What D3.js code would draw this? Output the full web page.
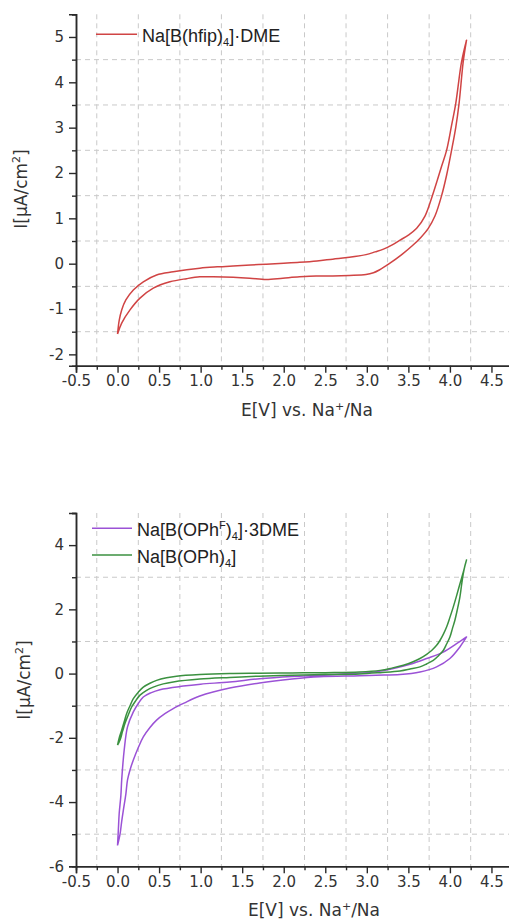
<!DOCTYPE html>
<html><head><meta charset="utf-8">
<script src="https://cdn.jsdelivr.net/npm/d3@7"></script>
<style>body{margin:0;background:#fff} svg{display:block}</style>
</head><body>
<svg id="c" width="509" height="921"></svg>
<script>
// ---------- tick values ----------
const xMajor = [-0.5, 0.0, 0.5, 1.0, 1.5, 2.0, 2.5, 3.0, 3.5, 4.0, 4.5];
const xMinor = [-0.25, 0.25, 0.75, 1.25, 1.75, 2.25, 2.75, 3.25, 3.75, 4.25, 4.75];
const yMajorTop = [-2, -1, 0, 1, 2, 3, 4, 5];
const yMinorTop = [-1.5, -0.5, 0.5, 1.5, 2.5, 3.5, 4.5, 5.5];
const yGridTop = [-1.5, -0.5, 0.5, 1.5, 2.5, 3.5, 4.5];
const yMajorBot = [-6, -4, -2, 0, 2, 4];
const yMinorBot = [-5, -3, -1, 1, 3, 5];
const yGridBot = [-5, -3, -1, 1, 3];

// ---------- series (E [V], I [uA/cm2]) ----------
// Na[B(hfip)4]·DME : upper branch and lower branch, both ascending in E
const hfipUpper = [[0.00,-1.55],[0.02,-1.25],[0.05,-1.02],[0.10,-0.80],[0.19,-0.58],[0.31,-0.40],[0.47,-0.25],[0.67,-0.18],[0.99,-0.10],[1.20,-0.07],[1.39,-0.05],[1.60,-0.03],[1.79,-0.01],[2.00,0.01],[2.19,0.03],[2.40,0.06],[2.59,0.10],[2.79,0.14],[2.99,0.20],[3.10,0.26],[3.20,0.32],[3.30,0.41],[3.40,0.52],[3.50,0.63],[3.60,0.78],[3.70,1.05],[3.78,1.45],[3.85,1.85],[3.90,2.15],[3.96,2.50],[4.02,3.05],[4.07,3.53],[4.14,4.45],[4.20,4.93]];
const hfipLower = [[0.00,-1.55],[0.05,-1.31],[0.15,-1.02],[0.27,-0.76],[0.43,-0.54],[0.63,-0.40],[0.83,-0.33],[0.99,-0.29],[1.15,-0.29],[1.39,-0.30],[1.59,-0.32],[1.79,-0.35],[1.99,-0.32],[2.19,-0.29],[2.39,-0.27],[2.59,-0.27],[2.79,-0.26],[2.99,-0.24],[3.08,-0.20],[3.15,-0.14],[3.27,0.00],[3.42,0.20],[3.55,0.40],[3.65,0.58],[3.74,0.78],[3.82,1.05],[3.90,1.50],[3.96,1.95],[4.02,2.50],[4.07,3.00],[4.11,3.53],[4.16,4.45],[4.20,4.93]];
// Na[B(OPhF)4]·3DME
const ophfUpper = [[0.00,-5.35],[0.01,-4.85],[0.02,-4.35],[0.04,-3.80],[0.05,-3.31],[0.08,-2.38],[0.12,-1.66],[0.19,-1.19],[0.25,-0.93],[0.31,-0.73],[0.40,-0.60],[0.51,-0.50],[0.79,-0.39],[1.00,-0.33],[1.35,-0.26],[1.71,-0.16],[2.10,-0.09],[2.43,-0.05],[2.80,0.00],[3.08,0.05],[3.32,0.16],[3.52,0.29],[3.72,0.47],[3.92,0.67],[4.08,0.93],[4.20,1.14]];
const ophfLower = [[0.00,-5.35],[0.03,-5.00],[0.05,-4.60],[0.07,-4.25],[0.10,-3.75],[0.12,-3.31],[0.15,-3.00],[0.19,-2.69],[0.25,-2.30],[0.31,-1.97],[0.39,-1.68],[0.47,-1.45],[0.57,-1.25],[0.67,-1.09],[0.80,-0.92],[0.99,-0.70],[1.35,-0.45],[1.71,-0.29],[2.10,-0.17],[2.43,-0.10],[2.91,-0.07],[3.11,-0.05],[3.40,-0.03],[3.64,0.05],[3.84,0.21],[4.00,0.47],[4.12,0.83],[4.20,1.14]];
// Na[B(OPh)4]
const ophUpper = [[0.00,-2.23],[0.02,-2.00],[0.05,-1.76],[0.08,-1.50],[0.11,-1.24],[0.15,-1.00],[0.19,-0.78],[0.25,-0.58],[0.31,-0.42],[0.39,-0.30],[0.47,-0.21],[0.59,-0.13],[0.71,-0.08],[0.99,-0.03],[1.35,0.00],[1.70,0.01],[2.10,0.02],[2.50,0.03],[2.91,0.05],[3.16,0.10],[3.30,0.17],[3.44,0.26],[3.55,0.36],[3.64,0.47],[3.72,0.60],[3.78,0.72],[3.84,0.88],[3.88,1.03],[3.92,1.22],[3.96,1.45],[4.00,1.75],[4.04,2.07],[4.08,2.42],[4.12,2.79],[4.16,3.15],[4.20,3.54]];
const ophLower = [[0.00,-2.23],[0.03,-2.07],[0.06,-1.80],[0.09,-1.55],[0.13,-1.28],[0.17,-1.04],[0.22,-0.84],[0.27,-0.67],[0.35,-0.52],[0.43,-0.42],[0.55,-0.32],[0.67,-0.26],[0.99,-0.17],[1.35,-0.12],[1.70,-0.08],[2.10,-0.05],[2.50,-0.03],[2.91,-0.01],[3.16,0.03],[3.40,0.08],[3.52,0.14],[3.64,0.21],[3.72,0.30],[3.80,0.41],[3.86,0.55],[3.92,0.72],[3.96,0.92],[4.00,1.14],[4.03,1.40],[4.06,1.66],[4.09,2.00],[4.12,2.38],[4.14,2.75],[4.16,3.10],[4.18,3.35],[4.20,3.54]];

const colors = {hfip: "#d04444", ophf: "#9b52d6", oph: "#3b9140"};
const svg = d3.select("#c");
const FONT = "'DejaVu Sans', Verdana, sans-serif";
const LFONT = "'Liberation Sans', Arial, sans-serif";

function loop(up, low) { return up.concat(low.slice().reverse()); }

function panel(cfg) {
  const x = d3.scaleLinear().domain([-0.5, 5.0]).range([76, 533]);
  const y = d3.scaleLinear().domain(cfg.yDomain).range(cfg.yRange);
  const g = svg.append("g");
  const [yb, yt] = cfg.yRange;
  // grid
  g.append("g").selectAll("line").data(xMinor).join("line")
    .attr("x1", d => x(d)).attr("x2", d => x(d)).attr("y1", yt).attr("y2", yb)
    .attr("stroke", "#c9c9c9").attr("stroke-width", 1).attr("stroke-dasharray", "5,4");
  g.append("g").selectAll("line").data(cfg.yGrid).join("line")
    .attr("x1", 76).attr("x2", 509).attr("y1", d => y(d)).attr("y2", d => y(d))
    .attr("stroke", "#c9c9c9").attr("stroke-width", 1).attr("stroke-dasharray", "5,4");
  // curves
  const line = d3.line().x(d => x(d[0])).y(d => y(d[1])).curve(d3.curveCatmullRom.alpha(0.5));
  cfg.series.forEach(s => {
    g.append("path").attr("d", line(loop(s.up, s.low))).attr("fill", "none")
      .attr("stroke", s.color).attr("stroke-width", 1.5).attr("stroke-linejoin", "round");
  });
  // axes
  const ax = g.append("g").attr("transform", `translate(0,${yb})`)
    .call(d3.axisBottom(x).tickValues(xMajor).tickSize(7).tickPadding(3).tickFormat(d => d.toFixed(1)));
  const axm = g.append("g").attr("transform", `translate(0,${yb})`)
    .call(d3.axisBottom(x).tickValues(xMinor).tickSize(4).tickFormat(""));
  const ay = g.append("g").attr("transform", `translate(76,0)`)
    .call(d3.axisLeft(y).tickValues(cfg.yMajor).tickSize(7).tickPadding(5).tickFormat(d => String(d)));
  const aym = g.append("g").attr("transform", `translate(76,0)`)
    .call(d3.axisLeft(y).tickValues(cfg.yMinor).tickSize(4).tickFormat(""));
  [ax, axm, ay, aym].forEach(a => {
    a.select(".domain").attr("stroke", "#2a2a2a").attr("stroke-width", 1.5);
    a.selectAll(".tick line").attr("stroke", "#2a2a2a").attr("stroke-width", 1.4);
    a.selectAll("text").attr("font-family", FONT).attr("font-size", 15).attr("fill", "#333");
  });
  // x label
  const xl = g.append("text").attr("x", cfg.xLabelX).attr("y", yb + 50)
    .attr("text-anchor", "middle").attr("font-family", FONT).attr("font-size", 17).attr("fill", "#333");
  xl.append("tspan").text("E[V] vs. Na");
  xl.append("tspan").attr("font-size", 11).attr("dy", -6).text("+");
  xl.append("tspan").attr("dy", 6).text("/Na");
  // y label
  const yl = g.append("text").attr("transform", `translate(${cfg.yLabelX},${cfg.yLabelY}) rotate(-90)`)
    .attr("text-anchor", "middle").attr("font-family", FONT).attr("font-size", 17).attr("fill", "#333");
  yl.append("tspan").text("I[μA/cm");
  yl.append("tspan").attr("font-size", 11).attr("dy", -7).text("2");
  yl.append("tspan").attr("dy", 7).text("]");
  // legend
  cfg.series.forEach((s, i) => {
    const ly = cfg.legY + i * cfg.legStep;
    g.append("line").attr("x1", cfg.legX1).attr("x2", cfg.legX2).attr("y1", ly).attr("y2", ly)
      .attr("stroke", s.color).attr("stroke-width", 1.5);
    const t = g.append("text").attr("x", cfg.legX2 + 5).attr("y", ly + 7.5)
      .attr("font-family", LFONT).attr("font-size", 18).attr("fill", "#222");
    s.label.forEach(p => {
      const ts = t.append("tspan").text(p.t);
      if (p.sub) ts.attr("font-size", 11).attr("dy", 4);
      if (p.sup) ts.attr("font-size", 11).attr("dy", -7);
      if (p.back) ts.attr("dy", p.back);
    });
  });
}

const hfipLabel = [{t:"Na[B(hfip)"},{t:"4",sub:true},{t:"]·DME",back:-4}];
const ophfLabel = [{t:"Na[B(OPh"},{t:"F",sup:true},{t:")",back:7},{t:"4",sub:true},{t:"]·3DME",back:-4}];
const ophLabel = [{t:"Na[B(OPh)"},{t:"4",sub:true},{t:"]",back:-4}];

panel({
  yDomain: [-2.25, 5.5], yRange: [365.7, 14.3],
  yMajor: yMajorTop, yMinor: yMinorTop, yGrid: yGridTop,
  xLabelX: 307, yLabelX: 27, yLabelY: 189,
  legX1: 96, legX2: 137, legY: 34.3, legStep: 0,
  series: [{up: hfipUpper, low: hfipLower, color: colors.hfip, label: hfipLabel}]
});
panel({
  yDomain: [-6, 5], yRange: [866.3, 513],
  yMajor: yMajorBot, yMinor: yMinorBot, yGrid: yGridBot,
  xLabelX: 314, yLabelX: 30, yLabelY: 680,
  legX1: 92, legX2: 132, legY: 528.3, legStep: 26.7,
  series: [
    {up: ophfUpper, low: ophfLower, color: colors.ophf, label: ophfLabel},
    {up: ophUpper, low: ophLower, color: colors.oph, label: ophLabel}
  ]
});
</script>
</body></html>
